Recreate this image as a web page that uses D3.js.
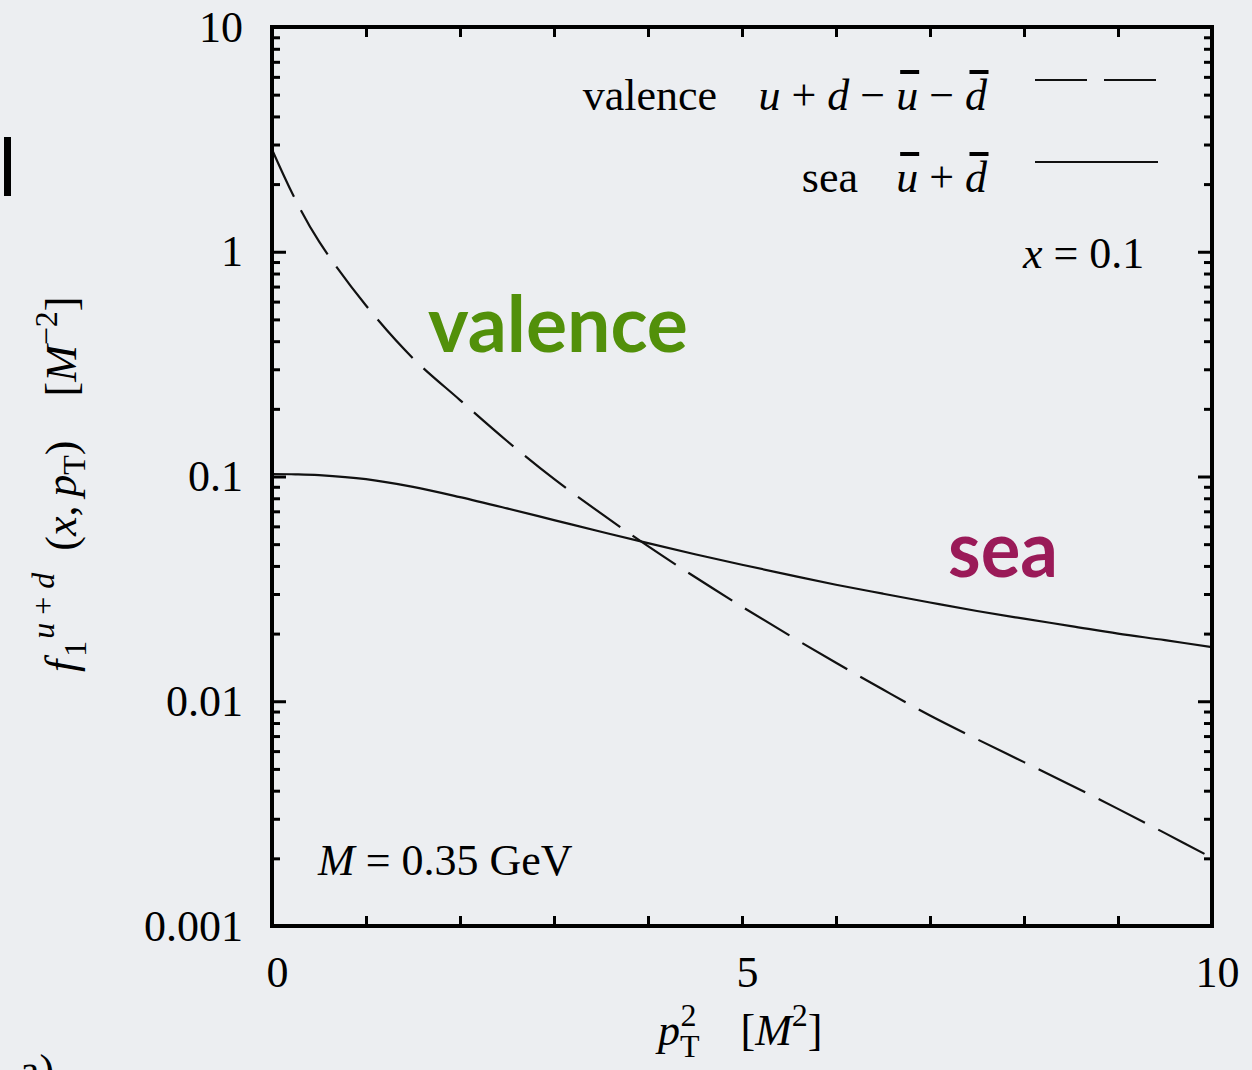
<!DOCTYPE html>
<html>
<head>
<meta charset="utf-8">
<script src="https://cdn.jsdelivr.net/npm/d3@7"></script>
<style>
  html, body { margin: 0; padding: 0; background: #eceef1; }
  svg { display: block; }
  text { white-space: pre; }
</style>
</head>
<body>
<svg id="chart" width="1252" height="1070"></svg>
<script>
// p_T^2 grid (units of M^2)
const pT2 = [0, 0.25, 0.5, 1, 1.5, 2, 2.5, 3, 3.5, 4, 4.5, 5, 5.5, 6, 6.5, 7, 7.5, 8, 8.5, 9, 9.5, 10];
// f1^{u+d}(x, pT) at x = 0.1, in M^-2
const valence = [2.851, 1.702, 1.112, 0.5768, 0.3357, 0.2188, 0.1439, 0.0975, 0.0685, 0.0490, 0.0357, 0.02636,
                 0.01968, 0.01483, 0.01127, 0.00864, 0.00678, 0.00536, 0.00423, 0.00332, 0.00259, 0.00201];
const sea = [0.1026, 0.1023, 0.1014, 0.0973, 0.0899, 0.0809, 0.0721, 0.0640, 0.0568, 0.0505, 0.0451, 0.0405,
             0.0365, 0.0330, 0.0301, 0.0275, 0.0252, 0.0233, 0.0216, 0.0200, 0.0187, 0.0174];

const yMajor = [0.001, 0.01, 0.1, 1, 10];
const yTickLabels = ["0.001", "0.01", "0.1", "1", "10"];
const xTicks = [0, 1, 2, 3, 4, 5, 6, 7, 8, 9, 10];
const xTickLabels = {0: "0", 5: "5", 10: "10"};

const SERIF = "'Liberation Serif', 'Times New Roman', Times, serif";
const SANS = "Lato, 'Open Sans', sans-serif";

const svg = d3.select("#chart");
const L = 272, R = 1212, T = 27, B = 926;

const x = d3.scaleLinear().domain([0, 10]).range([L, R]);
const y = d3.scaleLog().domain([0.001, 10]).range([B, T]);

// minor log ticks 2..9 per decade
const yMinor = [];
for (let k = -3; k < 1; k++) for (let m = 2; m <= 9; m++) yMinor.push(m * Math.pow(10, k));

function styleAxis(g) {
  g.select(".domain").remove();
  g.selectAll(".tick line").attr("stroke", "#000").attr("stroke-width", 3);
  g.attr("font-family", SERIF).attr("font-size", 44);
  g.selectAll(".tick text").attr("fill", "#000");
}

// left axis
svg.append("g").attr("transform", `translate(${L},0)`)
  .call(d3.axisLeft(y).tickValues(yMajor).tickSize(-14).tickPadding(29)
    .tickFormat((d, i) => yTickLabels[i]))
  .call(styleAxis);
svg.append("g").attr("transform", `translate(${L},0)`)
  .call(d3.axisLeft(y).tickValues(yMinor).tickSize(-8).tickFormat(""))
  .call(styleAxis);
// right axis
svg.append("g").attr("transform", `translate(${R},0)`)
  .call(d3.axisRight(y).tickValues(yMajor).tickSize(-14).tickFormat(""))
  .call(styleAxis);
svg.append("g").attr("transform", `translate(${R},0)`)
  .call(d3.axisRight(y).tickValues(yMinor).tickSize(-8).tickFormat(""))
  .call(styleAxis);
// bottom axis
const gx = svg.append("g").attr("transform", `translate(0,${B})`)
  .call(d3.axisBottom(x).tickValues(xTicks).tickSize(-10).tickPadding(30)
    .tickFormat(d => xTickLabels[d] || ""))
  .call(styleAxis);
gx.selectAll(".tick text").attr("dx", 5);
// top axis
svg.append("g").attr("transform", `translate(0,${T})`)
  .call(d3.axisTop(x).tickValues(xTicks).tickSize(-10).tickFormat(""))
  .call(styleAxis);

// curves
svg.append("clipPath").attr("id", "plotclip")
  .append("rect").attr("x", L).attr("y", T).attr("width", R - L).attr("height", B - T);

const line = d3.line().x(d => x(d[0])).y(d => y(d[1])).curve(d3.curveCatmullRom.alpha(0.5));

svg.append("path")
  .datum(pT2.map((p, i) => [p, valence[i]]))
  .attr("clip-path", "url(#plotclip)")
  .attr("d", line).attr("fill", "none").attr("stroke", "#111")
  .attr("stroke-width", 2.2).attr("stroke-dasharray", "52,15");

svg.append("path")
  .datum(pT2.map((p, i) => [p, sea[i]]))
  .attr("clip-path", "url(#plotclip)")
  .attr("d", line).attr("fill", "none").attr("stroke", "#111")
  .attr("stroke-width", 2.2);

// frame
svg.append("rect").attr("x", L).attr("y", T).attr("width", R - L).attr("height", B - T)
  .attr("fill", "none").attr("stroke", "#000").attr("stroke-width", 4);

// legend
function formula(parent, xEnd, yBase, parts) {
  const t = parent.append("text").attr("x", xEnd).attr("y", yBase)
    .attr("text-anchor", "end").attr("font-family", SERIF).attr("font-size", 44).attr("fill", "#000");
  parts.forEach(p => {
    const s = t.append("tspan").text(p.t);
    if (p.i) s.attr("font-style", "italic");
    if (p.bar) s.classed("bar", true);
  });
  t.selectAll("tspan.bar").each(function () {
    const bb = this.getBBox();
    parent.append("rect")
      .attr("x", bb.x + bb.width / 2 - 7).attr("y", yBase - 40)
      .attr("width", 19).attr("height", 4).attr("fill", "#000");
  });
  return t;
}

const leg = svg.append("g");
leg.append("text").attr("x", 717).attr("y", 110).attr("text-anchor", "end")
  .attr("font-family", SERIF).attr("font-size", 44).text("valence");
formula(leg, 987, 110, [
  {t: "u", i: true}, {t: " + "}, {t: "d", i: true}, {t: " − "},
  {t: "u", i: true, bar: true}, {t: " − "}, {t: "d", i: true, bar: true}
]);
leg.append("line").attr("x1", 1035).attr("x2", 1158).attr("y1", 80).attr("y2", 80)
  .attr("stroke", "#111").attr("stroke-width", 2.2).attr("stroke-dasharray", "52,17");

leg.append("text").attr("x", 858).attr("y", 192).attr("text-anchor", "end")
  .attr("font-family", SERIF).attr("font-size", 44).text("sea");
formula(leg, 987, 192, [
  {t: "u", i: true, bar: true}, {t: " + "}, {t: "d", i: true, bar: true}
]);
leg.append("line").attr("x1", 1035).attr("x2", 1158).attr("y1", 162).attr("y2", 162)
  .attr("stroke", "#111").attr("stroke-width", 2.2);

// annotations
const ax = svg.append("text").attr("x", 1023).attr("y", 268)
  .attr("font-family", SERIF).attr("font-size", 44);
ax.append("tspan").attr("font-style", "italic").text("x");
ax.append("tspan").text(" = 0.1");

const am = svg.append("text").attr("x", 318).attr("y", 875)
  .attr("font-family", SERIF).attr("font-size", 44);
am.append("tspan").attr("font-style", "italic").text("M");
am.append("tspan").text(" = 0.35 GeV");

svg.append("text").attr("x", 428).attr("y", 352)
  .attr("font-family", SANS).attr("font-weight", 700).attr("font-size", 78)
  .attr("textLength", 260).attr("lengthAdjust", "spacingAndGlyphs")
  .attr("fill", "#52900a").text("valence");
svg.append("text").attr("x", 948).attr("y", 577)
  .attr("font-family", SANS).attr("font-weight", 700).attr("font-size", 78)
  .attr("textLength", 110).attr("lengthAdjust", "spacingAndGlyphs")
  .attr("fill", "#9a1a58").text("sea");

// y-axis title
const yl = svg.append("text")
  .attr("transform", "translate(76,672) rotate(-90)")
  .attr("font-family", SERIF).attr("font-size", 44).attr("fill", "#000");
yl.append("tspan").attr("font-style", "italic").text("f");
yl.append("tspan").attr("font-size", 32).attr("dy", 10).attr("dx", 3).text("1");
yl.append("tspan").attr("font-size", 32).attr("dy", -32).attr("dx", 2).attr("font-style", "italic").text("u");
yl.append("tspan").attr("font-size", 32).text(" + ");
yl.append("tspan").attr("font-size", 32).attr("font-style", "italic").text("d");
yl.append("tspan").attr("dy", 22).text("  (");
yl.append("tspan").attr("font-style", "italic").text("x");
yl.append("tspan").text(",\u2009");
yl.append("tspan").attr("font-style", "italic").text("p");
yl.append("tspan").attr("font-size", 32).attr("dy", 9).text("T");
yl.append("tspan").attr("dy", -9).text(")");
yl.append("tspan").text("    [");
yl.append("tspan").attr("font-style", "italic").text("M");
yl.append("tspan").attr("font-size", 32).attr("dy", -19).text("−2");
yl.append("tspan").attr("dy", 19).text("]");

// x-axis title
const xl = svg.append("text").attr("x", 658).attr("y", 1045)
  .attr("font-family", SERIF).attr("font-size", 44).attr("fill", "#000");
xl.append("tspan").attr("font-style", "italic").text("p");
xl.append("tspan").attr("font-size", 32).attr("dy", 12).text("T");
xl.append("tspan").attr("font-size", 32).attr("dy", -31).attr("dx", -19).text("2");
xl.append("tspan").attr("dy", 19).text("    [");
xl.append("tspan").attr("font-style", "italic").text("M");
xl.append("tspan").attr("font-size", 32).attr("dy", -19).text("2");
xl.append("tspan").attr("dy", 19).text("]");

// slide-edge marks
svg.append("rect").attr("x", 4).attr("y", 137).attr("width", 7).attr("height", 59).attr("fill", "#000");
svg.append("text").attr("x", 20).attr("y", 1085)
  .attr("font-family", SERIF).attr("font-size", 44).text("a)");
</script>
</body>
</html>
